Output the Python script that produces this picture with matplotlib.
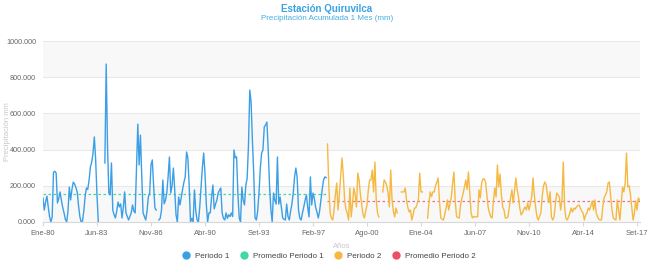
import numpy as np
import matplotlib
matplotlib.use("Agg")
import matplotlib.pyplot as plt
from matplotlib.lines import Line2D

plt.rcParams['font.family'] = ['Liberation Sans', 'DejaVu Sans']

nan = np.nan

# Precipitación mensual (mm), Periodo 1: Ene-80 ... Dic-97
periodo1 = [
    133, 66, 110, 143, 83, 30, 0, 28, 275, 280, 270, 105,
    130, 166, 120, 80, 50, 15, 0, 60, 193, 122, 180, 220,
    210, 190, 166, 90, 30, 0, 5, 60, 140, 188, 180, 230,
    304, 330, 380, 470, 343, 150, 0, nan, nan, nan, nan, 326,
    873, 420, 160, 150, 326, 66, 40, 22, 60, 110, 83, 100,
    22, 80, 166, 50, 30, 11, 30, 50, 94, 60, 50, 300,
    541, 315, 480, 250, 50, 30, 11, 60, 138, 160, 315, 343,
    200, 77, 66, nan, 11, 20, 66, 232, 100, 120, 160, 250,
    359, 160, 200, 298, 180, 40, 0, 138, 94, 138, 180, 220,
    249, 387, 354, 200, 0, 20, 0, 177, 60, 11, 0, 80,
    188, 300, 381, 270, 100, 0, 50, 50, 138, 204, 72, 99,
    120, 160, 175, 188, 50, 20, 11, 50, 20, 40, 30, 50,
    30, 398, 354, 360, 150, 22, 0, 193, 120, 94, 204, 240,
    420, 729, 663, 450, 270, 22, 11, 60, 160, 298, 381, 398,
    525, 536, 552, 398, 200, 72, 0, 160, 120, 99, 359, 99,
    138, 80, 22, 15, 11, 99, 30, 11, 60, 99, 160, 249,
    298, 243, 66, 20, 11, 50, 83, 120, 149, 80, 28, 249,
    94, 160, 130, 80, 55, 22, 60, 122, 180, 232, 249, 245,
]

# Periodo 2: Ene-98 ... Nov-17
periodo2 = [
    431, 200, 50, 20, 11, 66, 150, 215, 66, 150, 249, 354,
    260, 122, 70, 50, 11, 188, 28, 100, 188, 150, 83, 270,
    232, 150, 94, 40, 22, 60, 94, 177, 232, 232, 287, 166,
    331, 122, 50, 28, nan, nan, 166, 232, 221, 200, 160, 83,
    287, 122, 60, 28, 77, 50, nan, nan, 166, 166, 166, 188,
    122, 80, 55, 66, 11, 40, 77, 77, 100, 122, 270, 166,
    166, nan, nan, nan, 22, 105, 166, 140, 166, 166, 199, 220,
    243, 118, 22, 15, 11, 40, 77, 122, 66, 100, 138, 215,
    276, 111, 28, 25, 22, 94, 130, 160, 193, 232, 180, 276,
    160, 50, 22, 30, 28, 28, 28, 177, 133, 215, 238, 238,
    220, 149, 80, 50, 28, 22, 120, 188, 138, 315, 193, 265,
    150, 83, 66, 22, 22, 28, 80, 133, 177, 105, 177, 243,
    180, 138, 77, 39, 50, 70, 83, 66, 105, 66, 100, 138,
    243, 150, 83, 28, 11, 30, 50, 140, 199, 221, 205, 149,
    105, 167, 28, 11, 28, 100, 160, 150, 138, 66, 122, 331,
    83, 20, 11, 28, 50, 77, 55, 77, 70, 83, 90, 94,
    77, 60, 50, 11, 39, 50, 77, 66, 90, 116, 66, 122,
    50, 28, 15, 11, 11, 83, 133, 150, 166, 215, 221, 138,
    66, 22, 15, 11, 122, 66, 11, 100, 193, 166, 215, 381,
    193, 200, 150, 83, 11, 50, 116, 66, 133, 120,
]

promedio1 = 153
promedio2 = 114

tick_labels = ["Ene-80", "Jun-83", "Nov-86", "Abr-90", "Set-93", "Feb-97",
               "Ago-00", "Ene-04", "Jun-07", "Nov-10", "Abr-14", "Set-17"]

azul = "#3c9fe6"
verde = "#3fd8a8"
naranja = "#f5b942"
rojo = "#ec4f66"

n1 = len(periodo1)
n2 = len(periodo2)
x1 = np.arange(n1)
x2 = np.arange(n1, n1 + n2)

fig = plt.figure(figsize=(6.54, 2.63), dpi=100)
ax = fig.add_axes([0.0657, 0.156, 0.913, 0.688])

# bandas alternas
for k in range(0, 1000, 200):
    if (k // 200) % 2 == 0:
        ax.axhspan(k, k + 200, color="#f8f8f8", zorder=0, lw=0)
for k in range(0, 1001, 200):
    ax.axhline(k, color="#e9e9e9", lw=0.8, zorder=1)

ax.plot(x1, periodo1, color=azul, lw=1.0, zorder=3)
ax.plot(x1, [promedio1] * n1, color=verde, lw=0.9, ls=(0, (2, 2)), zorder=2)
ax.plot(x2, periodo2, color=naranja, lw=1.0, zorder=3)
ax.plot(x2, [promedio2] * n2, color=rojo, lw=0.9, ls=(0, (2, 2)), alpha=0.8, zorder=2)

ax.set_xlim(0, n1 + n2 - 0.7)
ax.set_ylim(0, 1000)
ax.set_yticks(range(0, 1001, 200))
ax.set_yticklabels([f"{v:.3f}" for v in range(0, 1001, 200)])
ax.set_xticks(np.arange(len(tick_labels)) * 41)
ax.set_xticklabels(tick_labels)

for s in ["top", "right", "left"]:
    ax.spines[s].set_visible(False)
ax.spines["bottom"].set_color("#d8d8d8")
ax.tick_params(axis="y", length=0, labelsize=5.2, labelcolor="#666666", pad=5)
ax.tick_params(axis="x", length=3, color="#d8d8d8", labelsize=5.5,
               labelcolor="#666666", pad=3)

fig.text(8 / 654, 0.5, "Precipitación mm", rotation=90, ha="center", va="center",
         fontsize=5.5, color="#c8c8c8")
ax.set_xlabel("Años", fontsize=5.5, color="#c8c8c8", labelpad=4)

fig.text(0.5, 0.965, "Estación Quiruvilca", ha="center", va="center",
         fontsize=7, fontweight="bold", color="#3aa3de")
fig.text(0.5, 0.928, "Precipitación Acumulada 1 Mes (mm)", ha="center",
         va="center", fontsize=5.8, color="#45aee0")

handles = [Line2D([], [], ls="", marker="o", ms=5, color=c)
           for c in [azul, verde, naranja, rojo]]
fig.legend(handles, ["Periodo 1", "Promedio Periodo 1", "Periodo 2", "Promedio Periodo 2"],
           loc="center", bbox_to_anchor=(0.5, 0.025), ncol=4, frameon=False,
           fontsize=5.8, handletextpad=0.1, columnspacing=0.8, labelcolor="#444444")

fig.savefig("out.png", dpi=100)
